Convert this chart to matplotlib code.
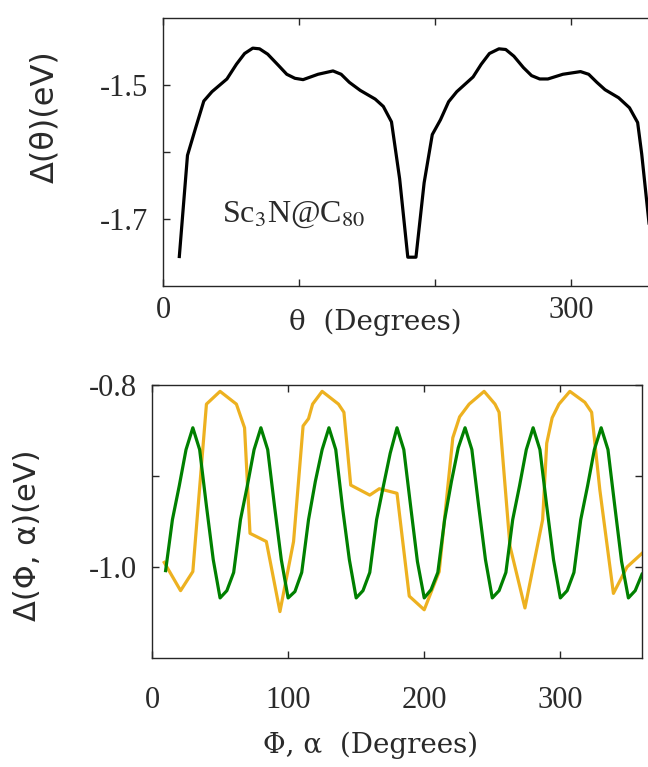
import numpy as np
import matplotlib
matplotlib.use("Agg")
import matplotlib.pyplot as plt

# top panel: Delta(theta) for Sc3N@C80
theta = [12, 18, 24, 30, 36, 47, 54, 60, 66, 71, 77, 85, 91, 97, 103, 114, 125,
         131, 137, 145, 156, 162, 168, 174, 180, 186, 192, 198, 204, 210, 216,
         228, 234, 240, 247, 252, 258, 265, 271, 277, 283, 294, 307, 313, 319,
         325, 335, 343, 349, 352, 360]
delta_theta = [-1.756, -1.605, -1.564, -1.524, -1.510, -1.491, -1.469, -1.453,
               -1.445, -1.446, -1.454, -1.471, -1.484, -1.490, -1.492, -1.484,
               -1.479, -1.484, -1.496, -1.508, -1.521, -1.532, -1.555, -1.640,
               -1.757, -1.757, -1.646, -1.574, -1.552, -1.525, -1.510, -1.488,
               -1.469, -1.453, -1.446, -1.447, -1.457, -1.474, -1.486, -1.491,
               -1.491, -1.484, -1.480, -1.484, -1.496, -1.507, -1.519, -1.534,
               -1.556, -1.603, -1.757]

# bottom panel: orange curve
or_x = [9, 21, 30, 40, 50, 62, 68, 72, 84, 94, 104, 111, 115, 118, 125, 137,
        141, 146, 160, 167, 180, 189, 200, 211, 221, 226, 233, 244, 252, 255,
        263, 274, 287, 290, 294, 299, 307, 318, 323, 329, 339, 349, 360]
or_y = [-0.995, -1.026, -1.005, -0.821, -0.807, -0.821, -0.847, -0.963, -0.972,
        -1.049, -0.972, -0.845, -0.837, -0.821, -0.807, -0.821, -0.830, -0.910,
        -0.921, -0.914, -0.919, -1.032, -1.047, -1.005, -0.858, -0.835, -0.821,
        -0.807, -0.821, -0.830, -0.977, -1.045, -0.948, -0.864, -0.836, -0.821,
        -0.807, -0.819, -0.830, -0.915, -1.029, -1.000, -0.985]

# bottom panel: green curve (5 degree steps from 10 to 360)
gr_x = list(range(10, 365, 5))
gr_y = [-1.004, -0.948, -0.911, -0.871, -0.847, -0.871, -0.933, -0.992, -1.034, -1.026,
        -1.006, -0.948, -0.911, -0.871, -0.847, -0.871, -0.933, -0.992, -1.034, -1.027,
        -1.006, -0.948, -0.906, -0.871, -0.847, -0.871, -0.935, -0.992, -1.034, -1.026,
        -1.006, -0.948, -0.911, -0.875, -0.847, -0.871, -0.933, -0.994, -1.034, -1.025,
        -1.006, -0.948, -0.906, -0.869, -0.847, -0.871, -0.933, -0.992, -1.034, -1.026,
        -1.006, -0.948, -0.911, -0.871, -0.847, -0.871, -0.933, -0.992, -1.034, -1.026,
        -1.006, -0.948, -0.911, -0.871, -0.847, -0.871, -0.933, -0.994, -1.034, -1.026,
        -1.008]

serif = 'Liberation Serif'
spine_col = '#262626'
text_col = '#2a2a2a'

fig = plt.figure(figsize=(6.48, 7.67), dpi=100)

def style(ax):
    for s in ax.spines.values():
        s.set_color(spine_col)
        s.set_linewidth(1.0)
    ax.tick_params(direction='in', length=5, width=1.0, color=spine_col,
                   labelsize=22, labelcolor=text_col)
    for lab in ax.get_xticklabels() + ax.get_yticklabels():
        lab.set_family(serif)

# top axes
ax1 = fig.add_axes([163/648, 1-286/767, 489.6/648, 268/767])
ax1.plot(theta, delta_theta, color='black', lw=2.3, solid_joinstyle='round')
ax1.set_xlim(0, 360)
ax1.set_ylim(-1.8, -1.4)
ax1.set_xticks([0, 100, 200, 300])
ax1.set_xticklabels(['0', '', '', '300'])
ax1.set_yticks([-1.7, -1.6, -1.5])
ax1.set_yticklabels(['-1.7', '', '-1.5'])
ax1.tick_params(top=True, right=False)
ax1.tick_params(axis='x', pad=7)
ax1.tick_params(axis='y', pad=11)
ax1.spines['right'].set_visible(False)
style(ax1)
ax1.text(0.12, 0.24, r'Sc$_3$N@C$_{80}$', transform=ax1.transAxes,
         family=serif, fontsize=23, color=text_col, math_fontfamily='stix')

# bottom axes
ax2 = fig.add_axes([152/648, 1-658/767, 490/648, 273/767])
ax2.plot(or_x, or_y, color='#EDB120', lw=2.3)
ax2.plot(gr_x, gr_y, color='#008000', lw=2.3)
ax2.set_xlim(0, 360)
ax2.set_ylim(-1.1, -0.8)
ax2.set_xticks([0, 100, 200, 300])
ax2.set_yticks([-1.0, -0.9, -0.8])
ax2.set_yticklabels(['-1.0', '', '-0.8'])
ax2.tick_params(top=True, right=True)
ax2.tick_params(axis='x', pad=20)
ax2.tick_params(axis='y', pad=11)
style(ax2)

# axis labels
fig.text(375/648, 1-322/767, 'θ  (Degrees)', ha='center', va='center',
         family='DejaVu Serif', fontsize=20, color=text_col)
fig.text(371/648, 1-745/767, 'Φ, α  (Degrees)', ha='center', va='center',
         family='DejaVu Serif', fontsize=20, color=text_col)
fig.text(45/648, 1-117/767, 'Δ(θ)(eV)', ha='center', va='center', rotation=90,
         family='DejaVu Sans', fontsize=23, color=text_col)
fig.text(28/648, 1-535/767, 'Δ(Φ, α)(eV)', ha='center', va='center', rotation=90,
         family='DejaVu Sans', fontsize=22, color=text_col)

fig.savefig('out.png', dpi=100)
